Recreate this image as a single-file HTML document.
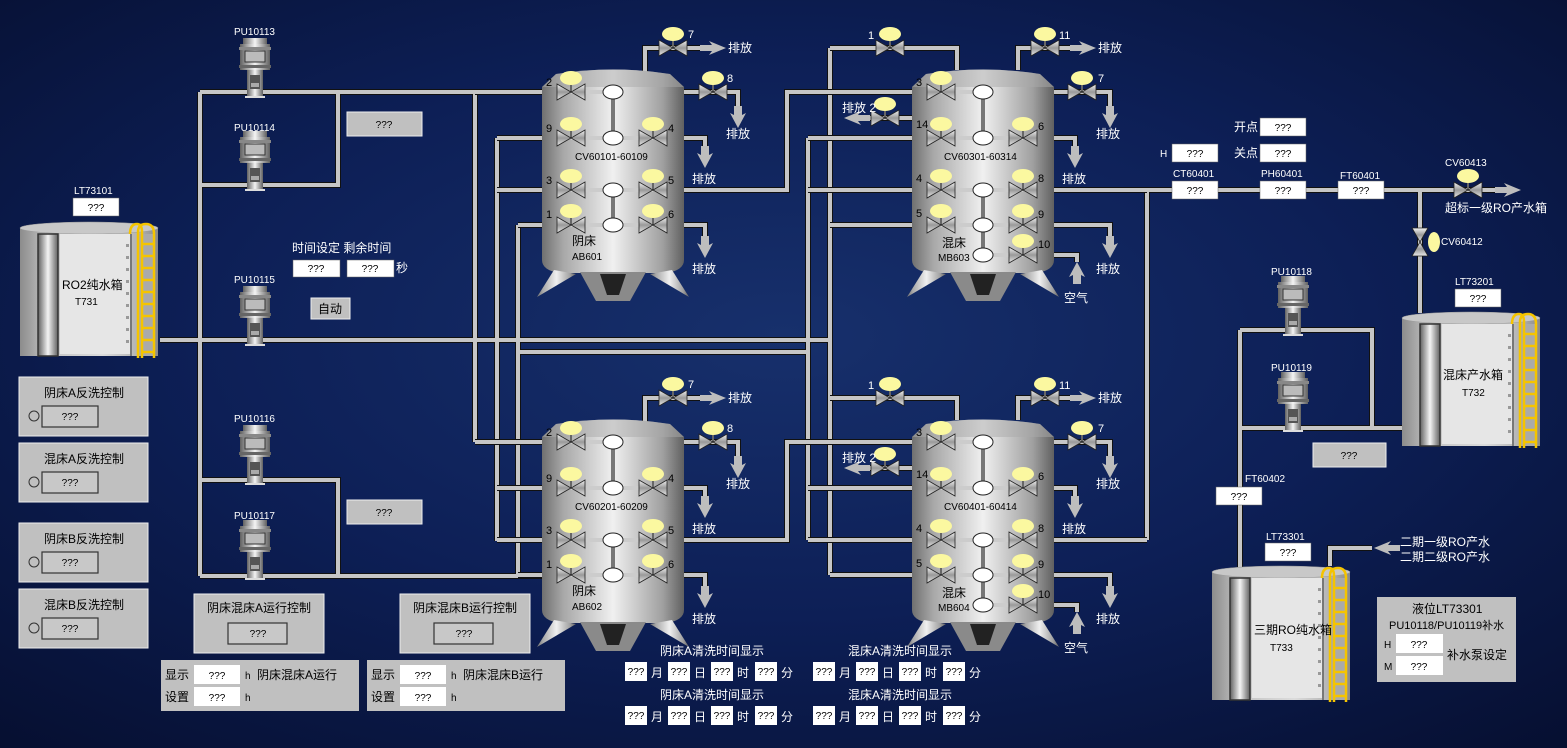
<!DOCTYPE html>
<html><head><meta charset="utf-8">
<style>
html,body{margin:0;padding:0;background:#0a1540;}
svg{display:block;}
text{font-family:"Liberation Sans","Noto Sans CJK SC",sans-serif;}
.w{fill:#fff;font-size:12px;}
.ws{fill:#fff;font-size:10px;}
.k{fill:#000;font-size:12px;}
.ks{fill:#000;font-size:10px;}
.q{fill:#000;font-size:10px;text-anchor:middle;}
</style></head><body>
<svg width="1567" height="748" viewBox="0 0 1567 748" xmlns="http://www.w3.org/2000/svg">
<defs>
<radialGradient id="bg" cx="0.5" cy="0.45" r="0.75">
<stop offset="0" stop-color="#17306c"/><stop offset="0.5" stop-color="#0d1f56"/><stop offset="1" stop-color="#060f30"/></radialGradient>
<linearGradient id="vb" x1="0" x2="1" y1="0" y2="0">
<stop offset="0" stop-color="#707070"/><stop offset="0.15" stop-color="#a8a8a8"/><stop offset="0.5" stop-color="#f0f0f0"/><stop offset="0.85" stop-color="#a0a0a0"/><stop offset="1" stop-color="#606060"/></linearGradient>
<linearGradient id="vg" x1="0" x2="0" y1="0" y2="1">
<stop offset="0" stop-color="#f4f4f4"/><stop offset="0.5" stop-color="#999"/><stop offset="1" stop-color="#e8e8e8"/></linearGradient>
<linearGradient id="tb" x1="0" x2="1">
<stop offset="0" stop-color="#8c8c8c"/><stop offset="0.2" stop-color="#c4c4c4"/><stop offset="0.6" stop-color="#dcdcdc"/><stop offset="0.85" stop-color="#b4b4b4"/><stop offset="1" stop-color="#8a8a8a"/></linearGradient>
<linearGradient id="pb" x1="0" x2="1">
<stop offset="0" stop-color="#606060"/><stop offset="0.5" stop-color="#f4f4f4"/><stop offset="1" stop-color="#606060"/></linearGradient>
<g id="v">
<line x1="0" y1="0" x2="0" y2="-9" stroke="#666" stroke-width="2"/>
<polygon points="-14,-8 0,0 -14,8" fill="url(#vg)" stroke="#222" stroke-width="0.8"/>
<polygon points="14,-8 0,0 14,8" fill="url(#vg)" stroke="#222" stroke-width="0.8"/>
<ellipse cx="0" cy="-14" rx="11" ry="7" fill="#fbf8a0"/>
</g>
<polygon id="ad" points="-4,0 4,0 4,9 8,7 0,22 -8,7 -4,9" fill="#bdbdbd"/>
<polygon id="au" points="-4,0 4,0 4,-9 8,-7 0,-22 -8,-7 -4,-9" fill="#bdbdbd"/>
<polygon id="ar" points="0,-3 12,-3 9,-7 26,0 9,7 12,3 0,3" fill="#bdbdbd"/>
<polygon id="al" points="0,-3 -12,-3 -9,-7 -26,0 -9,7 -12,3 0,3" fill="#bdbdbd"/>
<g id="pump">
<rect x="-12" y="0" width="24" height="6" fill="url(#pb)"/>
<rect x="-15" y="6" width="30" height="26" fill="url(#pb)"/>
<rect x="-16" y="9" width="32" height="3" fill="#888"/>
<rect x="-16" y="27" width="32" height="3" fill="#666"/>
<rect x="-10" y="13" width="20" height="11" fill="#bbb" stroke="#333" stroke-width="1"/>
<rect x="-8" y="32" width="16" height="27" fill="url(#pb)"/>
<rect x="-5" y="37" width="10" height="14" fill="#555"/>
<rect x="-4" y="45" width="8" height="4" fill="#aaa"/>
<rect x="-10" y="58" width="20" height="2" fill="#ddd"/>
</g>
<g id="vessel">
<path d="M0,22 L14,9 Q71,0 128,9 L142,22 V195 Q142,205 125,208 H17 Q0,205 0,195 Z" fill="url(#vb)"/>
<path d="M14,9 Q71,0 128,9 L142,22 H0 Z" fill="#aaa" opacity="0.5"/>
<polygon points="12,205 -5,232 34,209" fill="url(#vb)"/>
<polygon points="130,205 147,232 108,209" fill="url(#vb)"/>
<polygon points="38,207 104,207 88,236 54,236" fill="#8a8a8a"/>
<polygon points="58,209 84,209 77,230 65,230" fill="#222"/>
</g>
<g id="abv">
<line x1="29" y1="27" x2="71" y2="27" stroke="#ccc" stroke-width="4"/>
<line x1="29" y1="73" x2="111" y2="73" stroke="#ccc" stroke-width="4"/>
<line x1="29" y1="125" x2="111" y2="125" stroke="#ccc" stroke-width="4"/>
<line x1="29" y1="160" x2="111" y2="160" stroke="#ccc" stroke-width="4"/>
<line x1="71" y1="27" x2="71" y2="73" stroke="#777" stroke-width="4"/>
<line x1="71" y1="125" x2="71" y2="160" stroke="#777" stroke-width="4"/>
<g fill="#fff" stroke="#222" stroke-width="1">
<ellipse cx="71" cy="27" rx="10" ry="7"/><ellipse cx="71" cy="73" rx="10" ry="7"/><ellipse cx="71" cy="125" rx="10" ry="7"/><ellipse cx="71" cy="160" rx="10" ry="7"/></g>
<use href="#v" x="29" y="27"/><use href="#v" x="29" y="73"/><use href="#v" x="111" y="73"/><use href="#v" x="29" y="125"/><use href="#v" x="111" y="125"/><use href="#v" x="29" y="160"/><use href="#v" x="111" y="160"/>
</g>
<g id="mbv">
<line x1="29" y1="27" x2="71" y2="27" stroke="#ccc" stroke-width="4"/>
<line x1="29" y1="73" x2="111" y2="73" stroke="#ccc" stroke-width="4"/>
<line x1="29" y1="125" x2="111" y2="125" stroke="#ccc" stroke-width="4"/>
<line x1="29" y1="160" x2="111" y2="160" stroke="#ccc" stroke-width="4"/>
<line x1="71" y1="190" x2="111" y2="190" stroke="#ccc" stroke-width="4"/>
<line x1="71" y1="27" x2="71" y2="73" stroke="#777" stroke-width="4"/>
<line x1="71" y1="125" x2="71" y2="190" stroke="#777" stroke-width="4"/>
<g fill="#fff" stroke="#222" stroke-width="1">
<ellipse cx="71" cy="27" rx="10" ry="7"/><ellipse cx="71" cy="73" rx="10" ry="7"/><ellipse cx="71" cy="125" rx="10" ry="7"/><ellipse cx="71" cy="160" rx="10" ry="7"/><ellipse cx="71" cy="190" rx="10" ry="7"/></g>
<use href="#v" x="29" y="27"/><use href="#v" x="29" y="73"/><use href="#v" x="111" y="73"/><use href="#v" x="29" y="125"/><use href="#v" x="111" y="125"/><use href="#v" x="29" y="160"/><use href="#v" x="111" y="160"/><use href="#v" x="111" y="190"/>
</g>
<g id="unitpipes" fill="none">
<path d="M645,72 V48 H700 M684,92 H738 V108 M684,138 H705 V148 M684,225 H705 V238 M684,190 H787 V92 H912 M830,48 H957 V70 M1018,70 V48 H1070 M1054,92 H1110 V108 M912,118 H860 M1054,138 H1075 V148 M1054,225 H1110 V238 M1054,255 H1077 V262 M808,138 H912 M808,190 H912 M830,225 H912 M1054,190 H1147 M475,92 H545 M497,138 H545 M497,190 H545 M518,225 H545"/>
</g>
<g id="unit">
<use href="#unitpipes" stroke="#111" stroke-width="6"/>
<use href="#unitpipes" stroke="#c6c6c6" stroke-width="4"/>
<use href="#vessel" x="542" y="65"/>
<use href="#abv" x="542" y="65"/>
<use href="#vessel" x="912" y="65"/>
<use href="#mbv" x="912" y="65"/>
<use href="#v" x="673" y="48"/><use href="#v" x="713" y="92"/><use href="#v" x="890" y="48"/><use href="#v" x="1045" y="48"/><use href="#v" x="1082" y="92"/><use href="#v" x="885" y="118"/>
<use href="#ar" x="700" y="48"/><use href="#ad" x="738" y="106"/><use href="#ad" x="705" y="146"/><use href="#ad" x="705" y="236"/>
<use href="#ar" x="1070" y="48"/><use href="#ad" x="1110" y="106"/><use href="#al" x="870" y="118"/><use href="#ad" x="1075" y="146"/><use href="#ad" x="1110" y="236"/><use href="#au" x="1077" y="284"/>
</g>
<g id="tank">
<rect x="0" y="6" width="138" height="128" fill="url(#tb)"/>
<ellipse cx="69" cy="6" rx="69" ry="6" fill="#c8c8c8" stroke="#999" stroke-width="0.5"/>
<rect x="40" y="12" width="70" height="120" fill="#e6e6e6"/>
<rect x="18" y="12" width="20" height="122" fill="url(#pb)" stroke="#333" stroke-width="1.5"/>
<line x1="111" y1="12" x2="111" y2="134" stroke="#333"/>
<g fill="#999"><rect x="106" y="22" width="3" height="3"/><rect x="106" y="34" width="3" height="3"/><rect x="106" y="46" width="3" height="3"/><rect x="106" y="58" width="3" height="3"/><rect x="106" y="70" width="3" height="3"/><rect x="106" y="82" width="3" height="3"/><rect x="106" y="94" width="3" height="3"/><rect x="106" y="106" width="3" height="3"/><rect x="106" y="118" width="3" height="3"/></g>
<rect x="118" y="12" width="16" height="122" fill="#aaa"/>
<path d="M110,12 Q110,2 117,2 Q122,2 122,10 V136 M118,136 V10 Q118,2 126,2 Q134,2 134,12 V136" fill="none" stroke="#f5c400" stroke-width="2.5"/>
<g stroke="#f5c400" stroke-width="2.5"><line x1="122" y1="22" x2="134" y2="22"/><line x1="122" y1="34" x2="134" y2="34"/><line x1="122" y1="46" x2="134" y2="46"/><line x1="122" y1="58" x2="134" y2="58"/><line x1="122" y1="70" x2="134" y2="70"/><line x1="122" y1="82" x2="134" y2="82"/><line x1="122" y1="94" x2="134" y2="94"/><line x1="122" y1="106" x2="134" y2="106"/><line x1="122" y1="118" x2="134" y2="118"/><line x1="122" y1="130" x2="134" y2="130"/></g>
</g>
<g id="mainpipes" fill="none">
<path d="M160,340 H830 M200,92 V576 M200,92 H475 M200,185 H338 V92 M200,480 H338 V576 M200,576 H545 M475,92 V442 M497,138 V541 M518,225 V576 M518,352 H808 M808,138 V540 M830,48 V575 M1147,190 V540 M1147,190 H1505 M1420,190 V313 M1240,330 V567 M1240,330 H1372 V428 M1240,428 H1402 M1330,566 V548 H1372"/>
</g>
</defs>
<rect width="1567" height="748" fill="url(#bg)"/>

<use href="#mainpipes" stroke="#111" stroke-width="6"/>
<use href="#mainpipes" stroke="#c6c6c6" stroke-width="4"/>
<use href="#unit"/>
<use href="#unit" y="350"/>

<use href="#ar" x="1495" y="190"/>
<use href="#v" x="1468" y="190"/>
<g transform="translate(1420,242)">
<polygon points="-8,-14 0,0 8,-14" fill="url(#vg)" stroke="#222" stroke-width="0.8"/>
<polygon points="-8,14 0,0 8,14" fill="url(#vg)" stroke="#222" stroke-width="0.8"/>
<ellipse cx="14" cy="0" rx="6" ry="10" fill="#fbf8a0"/></g>
<use href="#al" x="1400" y="548"/>

<use href="#pump" x="255" y="38"/>
<use href="#pump" x="255" y="131"/>
<use href="#pump" x="255" y="286"/>
<use href="#pump" x="255" y="425"/>
<use href="#pump" x="255" y="520"/>
<use href="#pump" x="1293" y="276"/>
<use href="#pump" x="1293" y="372"/>
<g class="ws">
<text x="234" y="35">PU10113</text><text x="234" y="131">PU10114</text><text x="234" y="283">PU10115</text><text x="234" y="422">PU10116</text><text x="234" y="519">PU10117</text>
<text x="1271" y="275">PU10118</text><text x="1271" y="371">PU10119</text>
</g>

<use href="#tank" x="20" y="222"/>
<use href="#tank" x="1402" y="312"/>
<use href="#tank" x="1212" y="566"/>
<text x="62" y="289" class="k">RO2纯水箱</text><text x="75" y="305" class="ks">T731</text>
<text x="1443" y="379" class="k">混床产水箱</text><text x="1462" y="396" class="ks">T732</text>
<text x="1254" y="634" class="k">三期RO纯水箱</text><text x="1270" y="651" class="ks">T733</text>

<g class="k" font-size="11">
<text x="546" y="86" font-size="11">2</text><text x="546" y="132" font-size="11">9</text><text x="668" y="132" font-size="11">4</text><text x="546" y="184" font-size="11">3</text><text x="668" y="184" font-size="11">5</text><text x="546" y="218" font-size="11">1</text><text x="668" y="218" font-size="11">6</text>
<text x="575" y="160" class="ks">CV60101-60109</text><text x="572" y="245">阴床</text><text x="572" y="260" class="ks">AB601</text>
<text x="916" y="86" font-size="11">3</text><text x="916" y="128" font-size="11">14</text><text x="1038" y="130" font-size="11">6</text><text x="916" y="182" font-size="11">4</text><text x="1038" y="182" font-size="11">8</text><text x="916" y="217" font-size="11">5</text><text x="1038" y="218" font-size="11">9</text><text x="1038" y="248" font-size="11">10</text>
<text x="944" y="160" class="ks">CV60301-60314</text><text x="942" y="247">混床</text><text x="938" y="261" class="ks">MB603</text>
<text x="546" y="436" font-size="11">2</text><text x="546" y="482" font-size="11">9</text><text x="668" y="482" font-size="11">4</text><text x="546" y="534" font-size="11">3</text><text x="668" y="534" font-size="11">5</text><text x="546" y="568" font-size="11">1</text><text x="668" y="568" font-size="11">6</text>
<text x="575" y="510" class="ks">CV60201-60209</text><text x="572" y="595">阴床</text><text x="572" y="610" class="ks">AB602</text>
<text x="916" y="436" font-size="11">3</text><text x="916" y="478" font-size="11">14</text><text x="1038" y="480" font-size="11">6</text><text x="916" y="532" font-size="11">4</text><text x="1038" y="532" font-size="11">8</text><text x="916" y="567" font-size="11">5</text><text x="1038" y="568" font-size="11">9</text><text x="1038" y="598" font-size="11">10</text>
<text x="944" y="510" class="ks">CV60401-60414</text><text x="942" y="597">混床</text><text x="938" y="611" class="ks">MB604</text>
</g>

<g class="w">
<text x="688" y="38" font-size="11">7</text><text x="728" y="52">排放</text>
<text x="727" y="82" font-size="11">8</text><text x="726" y="138">排放</text>
<text x="692" y="183">排放</text><text x="692" y="273">排放</text>
<text x="868" y="39" font-size="11">1</text><text x="1059" y="39" font-size="11">11</text><text x="1098" y="52">排放</text>
<text x="1098" y="82" font-size="11">7</text><text x="1096" y="138">排放</text>
<text x="842" y="112">排放 2</text>
<text x="1062" y="183">排放</text><text x="1096" y="273">排放</text><text x="1064" y="302">空气</text>
<text x="688" y="388" font-size="11">7</text><text x="728" y="402">排放</text>
<text x="727" y="432" font-size="11">8</text><text x="726" y="488">排放</text>
<text x="692" y="533">排放</text><text x="692" y="623">排放</text>
<text x="868" y="389" font-size="11">1</text><text x="1059" y="389" font-size="11">11</text><text x="1098" y="402">排放</text>
<text x="1098" y="432" font-size="11">7</text><text x="1096" y="488">排放</text>
<text x="842" y="462">排放 2</text>
<text x="1062" y="533">排放</text><text x="1096" y="623">排放</text><text x="1064" y="652">空气</text>
</g>

<g fill="#fff" stroke="#666" stroke-width="0.5">
<rect x="73" y="198" width="46" height="18"/>
<rect x="1172" y="181" width="46" height="18"/><rect x="1260" y="181" width="46" height="18"/><rect x="1338" y="181" width="46" height="18"/>
<rect x="1172" y="144" width="46" height="18"/><rect x="1260" y="118" width="46" height="18"/><rect x="1260" y="144" width="46" height="18"/>
<rect x="1455" y="289" width="46" height="18"/><rect x="1216" y="487" width="46" height="18"/><rect x="1265" y="543" width="46" height="18"/>
<rect x="293" y="260" width="47" height="17"/><rect x="347" y="260" width="47" height="17"/>
</g>
<g class="q">
<text x="96" y="211">???</text>
<text x="1195" y="194">???</text><text x="1283" y="194">???</text><text x="1361" y="194">???</text>
<text x="1195" y="157">???</text><text x="1283" y="131">???</text><text x="1283" y="157">???</text>
<text x="1478" y="302">???</text><text x="1239" y="500">???</text><text x="1288" y="556">???</text>
<text x="316" y="272">???</text><text x="370" y="272">???</text>
</g>
<g class="ws">
<text x="74" y="194">LT73101</text><text x="1455" y="285">LT73201</text><text x="1266" y="540">LT73301</text>
<text x="1245" y="482">FT60402</text>
<text x="1173" y="177">CT60401</text><text x="1261" y="177">PH60401</text><text x="1340" y="179">FT60401</text>
<text x="1445" y="166">CV60413</text><text x="1441" y="245">CV60412</text>
<text x="1160" y="157">H</text>
</g>
<g class="w">
<text x="1234" y="131">开点</text><text x="1234" y="157">关点</text>
<text x="1445" y="212">超标一级RO产水箱</text>
<text x="1400" y="546">二期一级RO产水</text><text x="1400" y="561">二期二级RO产水</text>
<text x="292" y="252">时间设定 剩余时间</text><text x="396" y="272">秒</text>
</g>

<g fill="#c0c0c0" stroke="#eee" stroke-width="1">
<rect x="347" y="112" width="75" height="24"/><rect x="347" y="500" width="75" height="24"/><rect x="1313" y="443" width="73" height="24"/>
<rect x="311" y="298" width="39" height="21"/>
</g>
<g class="q"><text x="384" y="128">???</text><text x="384" y="516">???</text><text x="1349" y="459">???</text></g>
<text x="318" y="313" class="k">自动</text>

<g fill="#c0c0c0" stroke="#eee" stroke-width="1">
<rect x="19" y="377" width="129" height="59"/><rect x="19" y="443" width="129" height="59"/><rect x="19" y="523" width="129" height="59"/><rect x="19" y="589" width="129" height="59"/>
<rect x="194" y="594" width="130" height="59"/><rect x="400" y="594" width="130" height="59"/>
</g>
<g fill="#c8c8c8" stroke="#333" stroke-width="1.2">
<rect x="42" y="406" width="56" height="21"/><rect x="42" y="472" width="56" height="21"/><rect x="42" y="552" width="56" height="21"/><rect x="42" y="618" width="56" height="21"/>
<rect x="228" y="623" width="59" height="21"/><rect x="434" y="623" width="59" height="21"/>
</g>
<g fill="none" stroke="#333"><circle cx="34" cy="416" r="5"/><circle cx="34" cy="482" r="5"/><circle cx="34" cy="562" r="5"/><circle cx="34" cy="628" r="5"/></g>
<g class="k">
<text x="44" y="397">阴床A反洗控制</text><text x="44" y="463">混床A反洗控制</text><text x="44" y="543">阴床B反洗控制</text><text x="44" y="609">混床B反洗控制</text>
<text x="207" y="612">阴床混床A运行控制</text><text x="413" y="612">阴床混床B运行控制</text>
</g>
<g class="q"><text x="70" y="420">???</text><text x="70" y="486">???</text><text x="70" y="566">???</text><text x="70" y="632">???</text><text x="258" y="637">???</text><text x="464" y="637">???</text></g>

<g fill="#c0c0c0"><rect x="161" y="660" width="198" height="51"/><rect x="367" y="660" width="198" height="51"/><rect x="1377" y="597" width="139" height="85"/></g>
<g fill="#fff"><rect x="194" y="665" width="46" height="19"/><rect x="194" y="687" width="46" height="19"/><rect x="400" y="665" width="46" height="19"/><rect x="400" y="687" width="46" height="19"/>
<rect x="1396" y="634" width="47" height="19"/><rect x="1396" y="656" width="47" height="19"/></g>
<g class="k">
<text x="165" y="679">显示</text><text x="165" y="701">设置</text><text x="245" y="679" class="ks">h</text><text x="257" y="679">阴床混床A运行</text><text x="245" y="701" class="ks">h</text>
<text x="371" y="679">显示</text><text x="371" y="701">设置</text><text x="451" y="679" class="ks">h</text><text x="463" y="679">阴床混床B运行</text><text x="451" y="701" class="ks">h</text>
<text x="1412" y="613">液位LT73301</text><text x="1389" y="629" font-size="11">PU10118/PU10119补水</text>
<text x="1384" y="648" class="ks">H</text><text x="1384" y="670" class="ks">M</text><text x="1447" y="659">补水泵设定</text>
</g>
<g class="q"><text x="217" y="679">???</text><text x="217" y="701">???</text><text x="423" y="679">???</text><text x="423" y="701">???</text><text x="1419" y="648">???</text><text x="1419" y="670">???</text></g>

<g class="w">
<text x="660" y="655">阴床A清洗时间显示</text><text x="848" y="655">混床A清洗时间显示</text>
<text x="660" y="699">阴床A清洗时间显示</text><text x="848" y="699">混床A清洗时间显示</text>
<text x="651" y="677">月</text><text x="694" y="677">日</text><text x="737" y="677">时</text><text x="781" y="677">分</text>
<text x="839" y="677">月</text><text x="882" y="677">日</text><text x="925" y="677">时</text><text x="969" y="677">分</text>
<text x="651" y="721">月</text><text x="694" y="721">日</text><text x="737" y="721">时</text><text x="781" y="721">分</text>
<text x="839" y="721">月</text><text x="882" y="721">日</text><text x="925" y="721">时</text><text x="969" y="721">分</text>
</g>
<g fill="#fff">
<rect x="625" y="662" width="22" height="19"/><rect x="668" y="662" width="22" height="19"/><rect x="711" y="662" width="22" height="19"/><rect x="755" y="662" width="22" height="19"/>
<rect x="813" y="662" width="22" height="19"/><rect x="856" y="662" width="22" height="19"/><rect x="899" y="662" width="22" height="19"/><rect x="943" y="662" width="22" height="19"/>
<rect x="625" y="706" width="22" height="19"/><rect x="668" y="706" width="22" height="19"/><rect x="711" y="706" width="22" height="19"/><rect x="755" y="706" width="22" height="19"/>
<rect x="813" y="706" width="22" height="19"/><rect x="856" y="706" width="22" height="19"/><rect x="899" y="706" width="22" height="19"/><rect x="943" y="706" width="22" height="19"/>
</g>
<g class="q" font-size="9">
<text x="636" y="675">???</text><text x="679" y="675">???</text><text x="722" y="675">???</text><text x="766" y="675">???</text>
<text x="824" y="675">???</text><text x="867" y="675">???</text><text x="910" y="675">???</text><text x="954" y="675">???</text>
<text x="636" y="719">???</text><text x="679" y="719">???</text><text x="722" y="719">???</text><text x="766" y="719">???</text>
<text x="824" y="719">???</text><text x="867" y="719">???</text><text x="910" y="719">???</text><text x="954" y="719">???</text>
</g>
</svg>
</body></html>
